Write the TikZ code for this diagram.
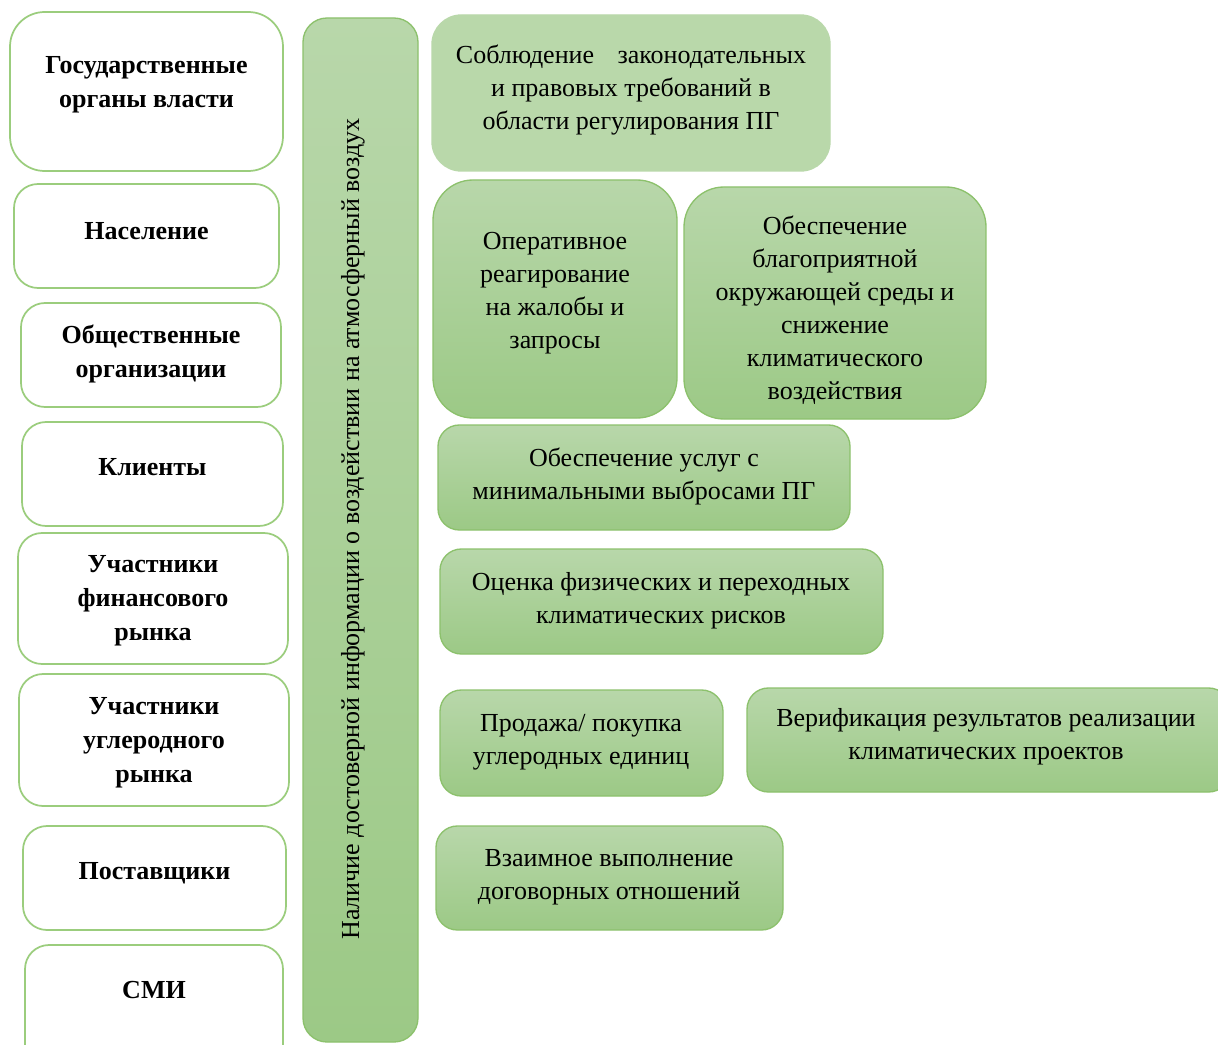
\documentclass[tikz,border=0pt]{standalone}
\usepackage{fontspec}
\setmainfont{Liberation Serif}
\newfontfamily\reffont{Liberation Serif}
\definecolor{gTop}{RGB}{184,215,170}
\definecolor{gBot}{RGB}{156,201,134}
\definecolor{gLine}{RGB}{140,193,108}
\definecolor{wLine}{RGB}{155,205,125}
\definecolor{gFlat}{RGB}{185,216,170}
\tikzset{
  wbox/.style={draw=wLine, line width=1.3pt, fill=white, rounded corners=18pt},
  gbox/.style={draw=gLine, line width=1pt, top color=gTop, bottom color=gBot, rounded corners=16pt},
  fbox/.style={draw=gFlat, line width=1pt, fill=gFlat, rounded corners=16pt},
  ltext/.style={font=\reffont\fontsize{19.5}{25.5}\selectfont\bfseries, align=center, inner sep=0pt},
  gtext/.style={font=\reffont\fontsize{19.5}{24.75}\selectfont, align=center, inner sep=0pt}
}
\begin{document}
\begin{tikzpicture}[x=0.75pt,y=-0.75pt]
\clip (0,0) rectangle (1218,1045);
\fill[white] (0,0) rectangle (1218,1045);
% left column
\path[wbox, rounded corners=26pt] (10,12) rectangle (283,171);
\node[ltext] (gov) at (146.5,85) {Государственные\\органы власти};
\path[wbox] (14,184) rectangle (279,288);
\node[ltext] (nas) at (146.5,231) {Население};
\path[wbox] (21,303) rectangle (281,407);
\node[ltext] (obsh) at (151,354) {Общественные\\организации};
\path[wbox] (22,422) rectangle (283,526);
\node[ltext] (kli) at (152.5,467) {Клиенты};
\path[wbox] (18,533) rectangle (288,664);
\node[ltext] (fin) at (153,601) {Участники\\финансового\\рынка};
\path[wbox] (19,674) rectangle (289,806);
\node[ltext] (ugl) at (154,743) {Участники\\углеродного\\рынка};
\path[wbox] (23,826) rectangle (286,930);
\node[ltext] (post) at (154.5,873) {Поставщики};
\path[wbox] (25,945) rectangle (283,1070);
\node[ltext] (smi) at (154,990) {СМИ};
% vertical bar
\path[gbox, rounded corners=18pt] (303,18) rectangle (418,1042);
\node[gtext, rotate=90] (bar) at (353,529) {Наличие достоверной информации о воздействии на атмосферный воздух};
% right boxes
\path[fbox, rounded corners=22pt] (432,15) rectangle (830,171);
\node[gtext] (sobl) at (631,90) {Соблюдение\hspace{0.9em}законодательных\\и правовых требований в\\области регулирования ПГ};
\path[gbox, rounded corners=30pt] (433,180) rectangle (677,418);
\node[gtext] (oper) at (555,293) {Оперативное\\реагирование\\на жалобы и\\запросы};
\path[gbox, rounded corners=30pt] (684,187) rectangle (986,419);
\node[gtext] (obesp) at (835,310) {Обеспечение\\благоприятной\\окружающей среды и\\снижение\\климатического\\воздействия};
\path[gbox] (438,425) rectangle (850,530);
\node[gtext] (usl) at (644,476) {Обеспечение услуг с\\минимальными выбросами ПГ};
\path[gbox] (440,549) rectangle (883,654);
\node[gtext] (ocen) at (661,601) {Оценка физических и переходных\\климатических рисков};
\path[gbox] (440,690) rectangle (723,796);
\node[gtext] (prod) at (581,742) {Продажа/ покупка\\углеродных единиц};
\path[gbox] (747,688) rectangle (1230,792);
\node[gtext] (verif) at (986,737) {Верификация результатов реализации\\климатических проектов};
\path[gbox] (436,826) rectangle (783,930);
\node[gtext] (vzaim) at (609,877) {Взаимное выполнение\\договорных отношений};
\end{tikzpicture}
\end{document}
